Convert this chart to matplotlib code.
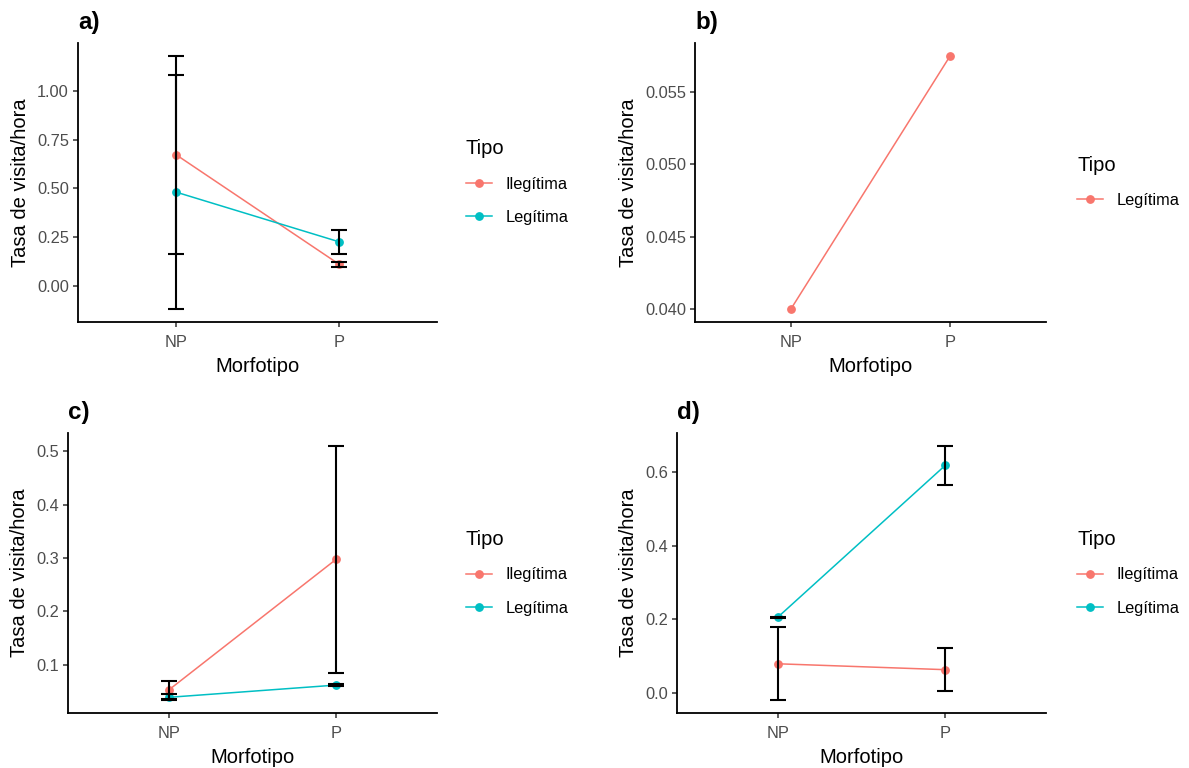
import numpy as np
import matplotlib
matplotlib.use("Agg")
import matplotlib.pyplot as plt
from matplotlib.lines import Line2D

plt.rcParams['font.family'] = ['Liberation Sans', 'DejaVu Sans']

W, H = 1189, 768
RED = "#F8766D"
TEAL = "#00BFC4"

cats = ["NP", "P"]

# a)
a_ileg = [0.673, 0.111]
a_ileg_err = [0.507, 0.013]
a_leg = [0.481, 0.226]
a_leg_err = [0.601, 0.060]

# b)
b_leg = [0.040, 0.0575]

# c)
c_ileg = [0.0526, 0.298]
c_ileg_err = [0.0165, 0.2125]
c_leg = [0.039, 0.062]
c_leg_err = [0.0055, 0.0015]

# d)
d_ileg = [0.0795, 0.0635]
d_ileg_err = [0.099, 0.059]
d_leg = [0.2054, 0.618]
d_leg_err = [0.002, 0.053]

fig = plt.figure(figsize=(W / 100, H / 100), dpi=100)


def px_axes(left, top, right, bottom):
    return fig.add_axes([left / W, 1 - bottom / H, (right - left) / W, (bottom - top) / H])


def style(ax, tag, yticks, fmt):
    x = np.arange(len(cats))
    ax.set_xlim(-0.6, 1.6)
    ax.set_xticks(x)
    ax.set_xticklabels(cats)
    ax.set_yticks(yticks)
    ax.set_yticklabels([fmt.format(v) for v in yticks])
    for s in ["top", "right"]:
        ax.spines[s].set_visible(False)
    for s in ["left", "bottom"]:
        ax.spines[s].set_linewidth(1.3)
        ax.spines[s].set_color("black")
    ax.tick_params(length=3.6, width=1.1, color="#333333", labelsize=11.8,
                   labelcolor="#4D4D4D", pad=2.9)
    ax.tick_params(axis="x", pad=5.6)
    ax.set_xlabel("Morfotipo", fontsize=14.5, labelpad=5.5)
    ax.set_ylabel("Tasa de visita/hora", fontsize=14.5, labelpad=5)
    ax.set_title(tag, loc="left", fontsize=17.4, fontweight="bold", pad=10)


def series(ax, y, err, color):
    x = np.arange(len(cats))
    ax.plot(x, y, color=color, lw=1.1, zorder=2)
    ax.plot(x, y, "o", color=color, ms=5.3, zorder=3)
    if err is not None:
        ax.errorbar(x, y, yerr=err, fmt="none", ecolor="black", elinewidth=1.5,
                    capsize=6, capthick=1.5, zorder=4)


def set_ylim(ax, lows, highs):
    lo, hi = min(lows), max(highs)
    pad = (hi - lo) * 0.05
    ax.set_ylim(lo - pad, hi + pad)


def add_legend(x_left, y_center, labels, colors):
    handles = [Line2D([0], [0], color=c, lw=1.1, marker="o", ms=5.3) for c in colors]
    fig.legend(handles, labels, title="Tipo", loc="center left",
               bbox_to_anchor=(x_left / W, 1 - y_center / H), frameon=False,
               fontsize=11.8, title_fontsize=14.5, alignment="left",
               handlelength=1.6, handletextpad=0.8, labelspacing=1.12,
               borderpad=0, borderaxespad=0)


# panel a
ax = px_axes(78, 43, 437, 322)
series(ax, a_ileg, a_ileg_err, RED)
series(ax, a_leg, a_leg_err, TEAL)
set_ylim(ax, np.subtract(a_ileg, a_ileg_err).tolist() + np.subtract(a_leg, a_leg_err).tolist(),
         np.add(a_ileg, a_ileg_err).tolist() + np.add(a_leg, a_leg_err).tolist())
style(ax, "a)", [0.0, 0.25, 0.5, 0.75, 1.0], "{:.2f}")
add_legend(466, 182, ["Ilegítima", "Legítima"], [RED, TEAL])

# panel b
ax = px_axes(695, 43, 1046, 322)
series(ax, b_leg, None, RED)
set_ylim(ax, b_leg, b_leg)
style(ax, "b)", [0.040, 0.045, 0.050, 0.055], "{:.3f}")
add_legend(1077, 182, ["Legítima"], [RED])

# panel c
ax = px_axes(68, 433, 437, 713)
series(ax, c_ileg, c_ileg_err, RED)
series(ax, c_leg, c_leg_err, TEAL)
set_ylim(ax, np.subtract(c_ileg, c_ileg_err).tolist() + np.subtract(c_leg, c_leg_err).tolist(),
         np.add(c_ileg, c_ileg_err).tolist() + np.add(c_leg, c_leg_err).tolist())
style(ax, "c)", [0.1, 0.2, 0.3, 0.4, 0.5], "{:.1f}")
add_legend(466, 573, ["Ilegítima", "Legítima"], [RED, TEAL])

# panel d
ax = px_axes(677, 433, 1046, 713)
series(ax, d_ileg, d_ileg_err, RED)
series(ax, d_leg, d_leg_err, TEAL)
set_ylim(ax, np.subtract(d_ileg, d_ileg_err).tolist() + np.subtract(d_leg, d_leg_err).tolist(),
         np.add(d_ileg, d_ileg_err).tolist() + np.add(d_leg, d_leg_err).tolist())
style(ax, "d)", [0.0, 0.2, 0.4, 0.6], "{:.1f}")
add_legend(1077, 573, ["Ilegítima", "Legítima"], [RED, TEAL])

fig.savefig("out.png", dpi=100)
